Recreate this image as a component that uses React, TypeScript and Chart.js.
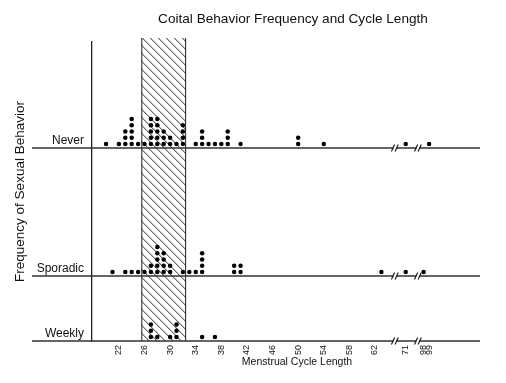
import React, { useEffect, useRef } from "react";
import { Chart, registerables } from "chart.js";

Chart.register(...registerables);

const TITLE = "Coital Behavior Frequency and Cycle Length";
const X_TITLE = "Menstrual Cycle Length";
const Y_TITLE = "Frequency of Sexual Behavior";
const ROWS = ["Never", "Sporadic", "Weekly"];

// cycle length (days) and number of women at that length, per row
const NEVER_DAYS = [20, 22, 23, 24, 25, 26, 27, 28, 29, 30, 31, 32, 34, 35, 36, 37, 38, 39, 41, 50, 54, 71, 99];
const NEVER_COUNTS = [1, 1, 3, 5, 1, 1, 5, 5, 3, 2, 1, 4, 1, 3, 1, 1, 1, 3, 1, 2, 1, 1, 1];
const SPORADIC_DAYS = [21, 23, 24, 25, 26, 27, 28, 29, 30, 32, 33, 34, 35, 40, 41, 63, 71, 98];
const SPORADIC_COUNTS = [1, 1, 1, 1, 1, 2, 5, 4, 2, 1, 1, 1, 4, 2, 2, 1, 1, 1];
const WEEKLY_DAYS = [27, 28, 30, 31, 35, 37];
const WEEKLY_COUNTS = [3, 1, 1, 3, 1, 1];

const TICK_DAYS = [22, 26, 30, 34, 38, 42, 46, 50, 54, 58, 62, 71, 98, 99];
const SHADE_FROM = 25.5;
const SHADE_TO = 32.5;

// ---- axis layout (broken axis) ----
const X_MIN = 17.8;
const X_MAX = 78.4;
const LINEAR_LIMIT = 65;
const BROKEN_DAYS = [71, 98, 99];
const BROKEN_POS = [66.8, 69.6, 70.45];
const BREAK_MARKS = [65.1, 68.7];
const Y_MAX = 47.46;
const ROW_BASE: Record<string, number> = { Never: 30.63, Sporadic: 10.32, Weekly: 0 };
const DOT_LIFT = 0.62;
const SHADE_TOP = 48.1;

const FONT = "'Liberation Sans', Arial, sans-serif";

function disp(day: number): number {
  if (day <= LINEAR_LIMIT) return day;
  const i = BROKEN_DAYS.indexOf(day);
  return i >= 0 ? BROKEN_POS[i] : day;
}

function stackPoints(days: number[], counts: number[], base: number) {
  const pts: { x: number; y: number }[] = [];
  days.forEach((d, i) => {
    for (let k = 0; k < counts[i]; k++) pts.push({ x: disp(d), y: base + DOT_LIFT + k });
  });
  return pts;
}

const decor = {
  id: "decor",
  beforeDatasetsDraw(chart: any) {
    const { ctx, chartArea: a } = chart;
    const xs = chart.scales.x;
    const ys = chart.scales.y;
    ctx.save();
    // hatched band
    const x0 = xs.getPixelForValue(SHADE_FROM);
    const x1 = xs.getPixelForValue(SHADE_TO);
    const yT = ys.getPixelForValue(SHADE_TOP);
    const yB = a.bottom;
    const h = yB - yT;
    ctx.save();
    ctx.beginPath();
    ctx.rect(x0, yT, x1 - x0, h);
    ctx.clip();
    ctx.strokeStyle = "#111";
    ctx.lineWidth = 0.9;
    ctx.beginPath();
    for (let c = x0 - h; c < x1 + 2; c += 8) {
      ctx.moveTo(c, yT);
      ctx.lineTo(c + h, yB);
    }
    ctx.stroke();
    ctx.restore();
    ctx.strokeStyle = "#222";
    ctx.lineWidth = 1;
    ctx.beginPath();
    ctx.moveTo(x0 + 0.5, yT);
    ctx.lineTo(x0 + 0.5, yB);
    ctx.moveTo(x1 - 0.5, yT);
    ctx.lineTo(x1 - 0.5, yB);
    ctx.stroke();

    // row lines with breaks
    const left = a.left - 60;
    const marks = BREAK_MARKS.map((m) => xs.getPixelForValue(m));
    ROWS.forEach((r) => {
      const y = ys.getPixelForValue(ROW_BASE[r]);
      ctx.strokeStyle = "#333";
      ctx.lineWidth = 1.5;
      ctx.beginPath();
      let cur = left;
      marks.forEach((m) => {
        ctx.moveTo(cur, y);
        ctx.lineTo(m - 1.5, y);
        cur = m + 1.5;
      });
      ctx.moveTo(cur, y);
      ctx.lineTo(a.right, y);
      ctx.stroke();
      ctx.strokeStyle = "#111";
      ctx.lineWidth = 1.1;
      ctx.beginPath();
      marks.forEach((m) => {
        [m - 1.8, m + 1.8].forEach((c) => {
          ctx.moveTo(c - 1.6, y + 3.5);
          ctx.lineTo(c + 1.6, y - 3.5);
        });
      });
      ctx.stroke();
      // row label
      ctx.fillStyle = "#111";
      ctx.font = `12px ${FONT}`;
      ctx.textAlign = "right";
      ctx.textBaseline = "alphabetic";
      ctx.fillText(r, a.left - 8, y - 4);
    });

    // titles
    ctx.fillStyle = "#111";
    ctx.textAlign = "center";
    ctx.textBaseline = "middle";
    ctx.font = `13.6px ${FONT}`;
    ctx.fillText(TITLE, (a.left + a.right) / 2 + 7, 19);
    ctx.font = `10.5px ${FONT}`;
    ctx.fillText(X_TITLE, (a.left + a.right) / 2 + 11, 362);
    ctx.restore();
  },
};

export default function App() {
  const ref = useRef<HTMLCanvasElement | null>(null);
  useEffect(() => {
    if (!ref.current) return;
    const chart = new Chart(ref.current, {
      type: "scatter",
      data: {
        datasets: [
          { label: "Never", data: stackPoints(NEVER_DAYS, NEVER_COUNTS, ROW_BASE.Never) },
          { label: "Sporadic", data: stackPoints(SPORADIC_DAYS, SPORADIC_COUNTS, ROW_BASE.Sporadic) },
          { label: "Weekly", data: stackPoints(WEEKLY_DAYS, WEEKLY_COUNTS, ROW_BASE.Weekly) },
        ].map((d) => ({
          ...d,
          pointRadius: 2.25,
          pointBackgroundColor: "#000",
          pointBorderWidth: 0,
          showLine: false,
        })),
      },
      options: {
        animation: false,
        responsive: false,
        events: [],
        layout: { padding: { top: 42, right: 26, left: 0, bottom: 0 } },
        plugins: {
          legend: { display: false },
          tooltip: { enabled: false },
          title: { display: false },
        },
        scales: {
          x: {
            type: "linear",
            min: X_MIN,
            max: X_MAX,
            grid: { display: false, drawTicks: false },
            border: { display: false },
            afterBuildTicks: (s: any) => {
              s.ticks = TICK_DAYS.map((d) => ({ value: disp(d) }));
            },
            ticks: {
              autoSkip: false,
              minRotation: 90,
              maxRotation: 90,
              padding: 4,
              color: "#111",
              font: { size: 9, family: FONT },
              callback: (v: any) => {
                const i = TICK_DAYS.findIndex((d) => Math.abs(disp(d) - Number(v)) < 1e-6);
                return i >= 0 ? String(TICK_DAYS[i]) : "";
              },
            },
            afterFit: (s: any) => {
              s.height = 42;
            },
          },
          y: {
            type: "linear",
            min: 0,
            max: Y_MAX,
            grid: { display: false, drawTicks: false },
            border: { display: true, color: "#222", width: 1.3 },
            ticks: { display: false },
            title: {
              display: true,
              text: Y_TITLE,
              color: "#111",
              font: { size: 13.5, family: FONT },
              padding: { top: 12, bottom: 0 },
            },
            afterFit: (s: any) => {
              s.width = 92;
            },
          },
        },
      },
      plugins: [decor],
    });
    return () => chart.destroy();
  }, []);
  return (
    <div style={{ position: "fixed", left: 0, top: 0, width: 506, height: 383, background: "#fff" }}>
      <canvas ref={ref} width={506} height={383} style={{ display: "block" }} />
    </div>
  );
}
